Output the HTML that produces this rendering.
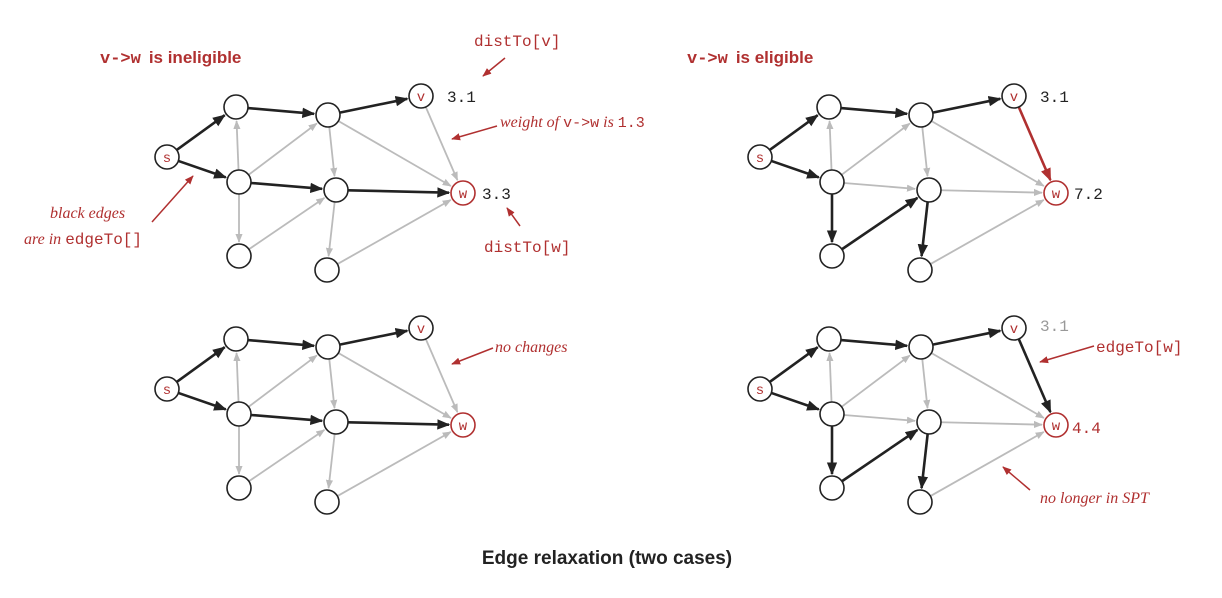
<!DOCTYPE html>
<html><head><meta charset="utf-8"><style>
body{margin:0;background:#fff}
svg{display:block}
.mono{font-family:"Liberation Mono",monospace}
.it{font-family:"Liberation Serif",serif;font-style:italic}
.sans{font-family:"Liberation Sans",sans-serif}
</style></head><body>
<svg id="c" width="1222" height="598" viewBox="0 0 1222 598">
<defs>
<marker id="mk" viewBox="0 0 10 10" refX="9" refY="5" markerWidth="5" markerHeight="5" orient="auto"><path d="M0,1 L10,5 L0,9 z" fill="context-stroke"/></marker>
<marker id="mb" viewBox="0 0 10 10" refX="9" refY="5" markerWidth="5" markerHeight="5" orient="auto"><path d="M0,1 L10,5 L0,9 z" fill="#222"/></marker>
<marker id="mg" viewBox="0 0 10 10" refX="9" refY="5" markerWidth="5" markerHeight="5" orient="auto"><path d="M0,1 L10,5 L0,9 z" fill="#bbb"/></marker>
<marker id="mr" viewBox="0 0 10 10" refX="9" refY="5" markerWidth="5" markerHeight="5" orient="auto"><path d="M0,1 L10,5 L0,9 z" fill="#b03030"/></marker>
<marker id="ma" viewBox="0 0 10 10" refX="9" refY="5" markerWidth="6" markerHeight="6" orient="auto"><path d="M0,1 L10,5 L0,9 z" fill="#b03030"/></marker>
</defs>
<g id="g"></g>
<g fill="#b03030" font-size="17">
<text x="100" y="63" font-weight="bold"><tspan class="mono">v-&gt;w</tspan><tspan class="sans" dx="8">is ineligible</tspan></text>
<text x="687" y="63" font-weight="bold"><tspan class="mono">v-&gt;w</tspan><tspan class="sans" dx="8">is eligible</tspan></text>
</g>
<g font-size="16" fill="#b03030">
<text class="mono" x="474" y="46">distTo[v]</text>
<text class="it" x="500" y="127">weight of <tspan class="mono" font-style="normal" font-size="15">v-&gt;w</tspan> is <tspan class="mono" font-style="normal" font-size="15">1.3</tspan></text>
<text class="mono" x="484" y="252">distTo[w]</text>
<text class="it" x="50" y="218">black edges</text>
<text class="it" x="24" y="244">are in <tspan class="mono" font-style="normal">edgeTo[]</tspan></text>
<text class="it" x="495" y="352">no changes</text>
<text class="mono" x="1096" y="352">edgeTo[w]</text>
<text class="it" x="1040" y="503">no longer in SPT</text>
</g>
<g class="mono" font-size="16">
<text x="447" y="102" fill="#222">3.1</text>
<text x="482" y="199" fill="#222">3.3</text>
<text x="1040" y="102" fill="#222">3.1</text>
<text x="1074" y="199" fill="#222">7.2</text>
<text x="1040" y="331" fill="#999">3.1</text>
<text x="1072" y="433" fill="#b03030">4.4</text>
</g>
<g stroke="#b03030" stroke-width="1.5" marker-end="url(#ma)">
<line x1="505" y1="58" x2="483" y2="76"/>
<line x1="497" y1="126" x2="452" y2="139"/>
<line x1="520" y1="226" x2="507" y2="208"/>
<line x1="152" y1="222" x2="193" y2="176"/>
<line x1="493" y1="348" x2="452" y2="364"/>
<line x1="1094" y1="346" x2="1040" y2="362"/>
<line x1="1030" y1="490" x2="1003" y2="467"/>
</g>
<text class="sans" x="607" y="564" text-anchor="middle" font-size="19" font-weight="bold" fill="#222">Edge relaxation (two cases)</text>
</svg>
<script>
const nodeNames=["s","A","B","v","C","D","w","E","F"];
const nodeX=[167,236,328,421,239,336,463,239,327];
const nodeY=[157,107,115,96,182,190,193,256,270];
const edgeFrom=["s","s","A","B","C","C","C","C","B","B","D","D","E","F","v"];
const edgeTo  =["A","C","B","v","A","B","E","D","D","w","w","F","D","w","w"];
// styles per panel: k=black g=gray r=red
const panelTL=["k","k","k","k","g","g","g","k","g","g","k","g","g","g","g"];
const panelTR=["k","k","k","k","g","g","k","g","g","g","g","k","k","g","r"];
const panelBL=["k","k","k","k","g","g","g","k","g","g","k","g","g","g","g"];
const panelBR=["k","k","k","k","g","g","k","g","g","g","g","k","k","g","k"];
const panels=[[0,0,panelTL,"tl"],[593,0,panelTR,"tr"],[0,232,panelBL,"bl"],[593,232,panelBR,"br"]];
const NS="http://www.w3.org/2000/svg",g=document.getElementById("g"),R=12;
const col={k:"#222",g:"#bbb",r:"#b03030"},wid={k:2.6,g:1.8,r:2.6},mk={k:"mb",g:"mg",r:"mr"};
panels.forEach(([dx,dy,st,p])=>{
  edgeFrom.forEach((f,i)=>{
    const a=nodeNames.indexOf(f),b=nodeNames.indexOf(edgeTo[i]);
    const x1=nodeX[a]+dx,y1=nodeY[a]+dy,x2=nodeX[b]+dx,y2=nodeY[b]+dy;
    const L=Math.hypot(x2-x1,y2-y1),ux=(x2-x1)/L,uy=(y2-y1)/L;
    const l=document.createElementNS(NS,"line");
    l.setAttribute("x1",x1+ux*R);l.setAttribute("y1",y1+uy*R);
    l.setAttribute("x2",x2-ux*(R+2));l.setAttribute("y2",y2-uy*(R+2));
    l.setAttribute("stroke",col[st[i]]);l.setAttribute("stroke-width",wid[st[i]]);
    l.setAttribute("marker-end","url(#"+mk[st[i]]+")");
    
    
    g.appendChild(l);
  });
  nodeNames.forEach((n,i)=>{
    const red=(n=="w");
    const c=document.createElementNS(NS,"circle");
    c.setAttribute("cx",nodeX[i]+dx);c.setAttribute("cy",nodeY[i]+dy);c.setAttribute("r",R);
    c.setAttribute("fill","#fff");c.setAttribute("stroke",red?"#b03030":"#222");c.setAttribute("stroke-width",1.6);
    
    
    g.appendChild(c);
    if(n=="s"||n=="v"||n=="w"){
      const t=document.createElementNS(NS,"text");
      t.setAttribute("x",nodeX[i]+dx);t.setAttribute("y",nodeY[i]+dy+5);
      t.setAttribute("text-anchor","middle");t.setAttribute("font-size","14");
      t.setAttribute("font-family","Liberation Mono, monospace");t.setAttribute("fill","#b03030");
      t.textContent=n;
      
      
      g.appendChild(t);
    }
  });
});
</script>
</body></html>
